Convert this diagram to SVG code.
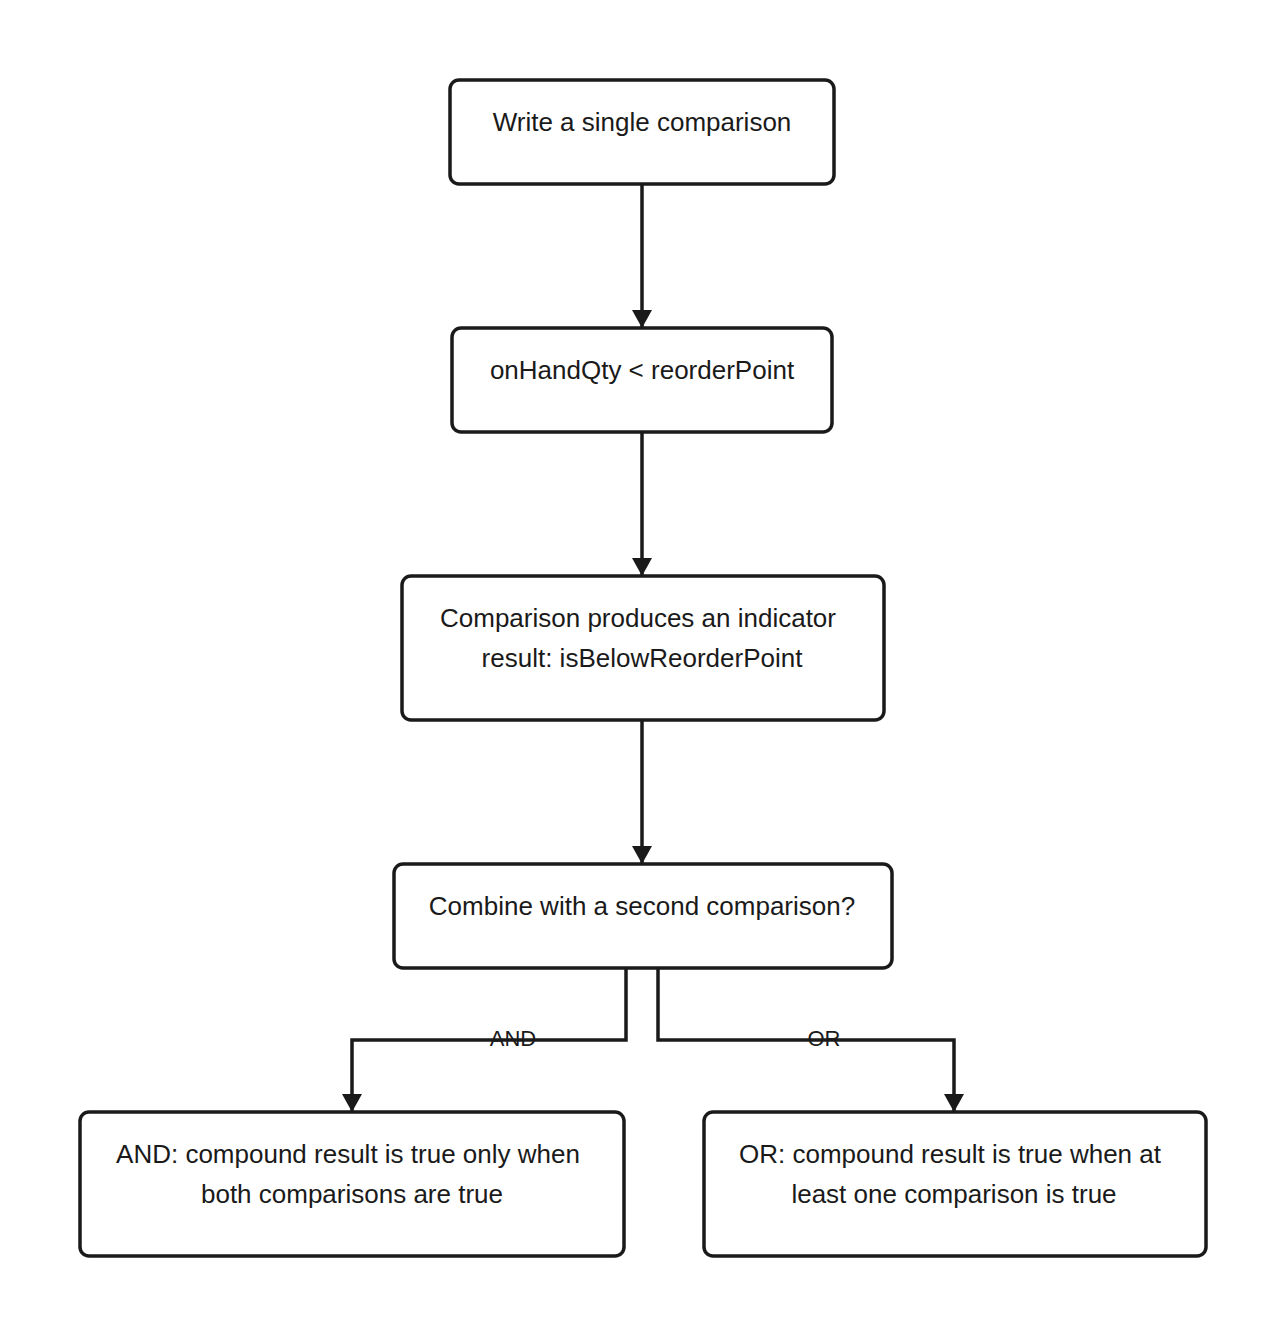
<svg xmlns="http://www.w3.org/2000/svg" width="1286" height="1336" viewBox="0 0 1286 1336">
<style>
.n{fill:#fff;stroke:#1a1a1a;stroke-width:3.5}
.t{font-family:"Liberation Sans",Arial,sans-serif;font-size:26px;fill:#1a1a1a;text-anchor:middle}
.l{font-family:"Liberation Sans",Arial,sans-serif;font-size:22px;fill:#1a1a1a;text-anchor:middle}
.c{fill:none;stroke:#1a1a1a;stroke-width:3.5}
</style>
<defs><marker id="a" markerWidth="10" markerHeight="10" refX="5" refY="9" orient="auto" markerUnits="userSpaceOnUse" viewBox="0 0 10 10"><path d="M0,0 L10,0 L5,10 Z" fill="#1a1a1a" transform="scale(1)"/></marker>
<marker id="b" viewBox="0 0 20 18" refX="10" refY="18" markerWidth="20" markerHeight="18" markerUnits="userSpaceOnUse" orient="0"><path d="M0,0 L20,0 L10,18 Z" fill="#1a1a1a"/></marker></defs>
<rect width="1286" height="1336" fill="#fff"/>
<g id="connectors">
<path class="c" d="M642,184 V328" marker-end="url(#b)"/>
<path class="c" d="M642,432 V576" marker-end="url(#b)"/>
<path class="c" d="M642,720 V864" marker-end="url(#b)"/>
<path class="c" d="M626,968 V1040 H352 V1112" marker-end="url(#b)"/>
<path class="c" d="M658,968 V1040 H954 V1112" marker-end="url(#b)"/>
<text class="l" x="513" y="1046">AND</text>
<text class="l" x="824" y="1046">OR</text>
</g>
<g id="n1"><rect class="n" x="450" y="80" width="384" height="104" rx="9"/><text class="t" x="642" y="131">Write a single comparison</text></g>
<g id="n2"><rect class="n" x="452" y="328" width="380" height="104" rx="9"/><text class="t" x="642" y="379">onHandQty &lt; reorderPoint</text></g>
<g id="n3"><rect class="n" x="402" y="576" width="482" height="144" rx="9"/><text class="t" x="638" y="627">Comparison produces an indicator</text><text class="t" x="642" y="667">result: isBelowReorderPoint</text></g>
<g id="n4"><rect class="n" x="394" y="864" width="498" height="104" rx="9"/><text class="t" x="642" y="915">Combine with a second comparison?</text></g>
<g id="n5"><rect class="n" x="80" y="1112" width="544" height="144" rx="9"/><text class="t" x="348" y="1163">AND: compound result is true only when</text><text class="t" x="352" y="1203">both comparisons are true</text></g>
<g id="n6"><rect class="n" x="704" y="1112" width="502" height="144" rx="9"/><text class="t" x="950" y="1163">OR: compound result is true when at</text><text class="t" x="954" y="1203">least one comparison is true</text></g>
</svg>
